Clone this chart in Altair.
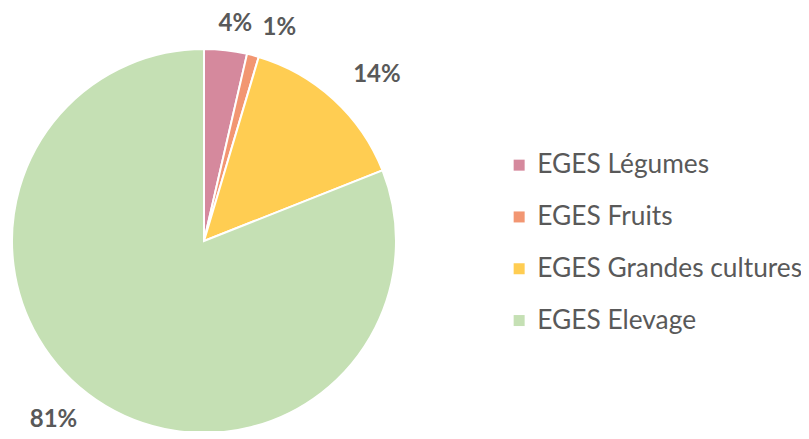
import altair as alt
import pandas as pd

categories = ["EGES Légumes", "EGES Fruits", "EGES Grandes cultures", "EGES Elevage"]
values = [3.6, 1.0, 14.4, 81.0]
labels = ["4%", "1%", "14%", "81%"]
colors = ["#D5899D", "#F29672", "#FFCD52", "#C5E0B4"]

df = pd.DataFrame({"cat": categories, "val": values, "lab": labels, "idx": list(range(len(categories)))})
total = float(sum(values))

cx, cy = 196, 233
theta_scale = alt.Scale(domain=[0, total])

color = alt.Color(
    "cat:N",
    scale=alt.Scale(domain=categories, range=colors),
    sort=categories,
    legend=alt.Legend(
        title=None,
        orient="none",
        legendX=498,
        legendY=144,
        symbolType="square",
        symbolSize=121,
        symbolStrokeWidth=0,
        labelFont="Lato",
        labelFontSize=26.3,
        labelColor="#595959",
        labelLimit=400,
        rowPadding=24.8,
        labelOffset=5,
    ),
)

pie = alt.Chart(df).mark_arc(radius=192, stroke="white", strokeWidth=2).encode(
    theta=alt.Theta("val:Q", stack=True, scale=theta_scale),
    order=alt.Order("idx:Q"),
    color=color,
    x=alt.value(cx),
    y=alt.value(cy),
)

# per-label nudges (Excel "best fit" placement)
nudges = [(6, 7), (18, 5), (21, 0), (-24, -7)]

layers = [pie]
for i, (ddx, ddy) in enumerate(nudges):
    t = (
        alt.Chart(df)
        .transform_window(cum="sum(val)", sort=[alt.SortField("idx")])
        .transform_calculate(mid="datum.cum - datum.val / 2")
        .transform_filter(alt.datum.idx == i)
        .mark_text(
            radius=225, dx=ddx, dy=ddy,
            font="Lato", fontSize=24, fontWeight="bold", color="#595959",
        )
        .encode(
            theta=alt.Theta("mid:Q", scale=theta_scale),
            text="lab:N",
            x=alt.value(cx),
            y=alt.value(cy),
        )
    )
    layers.append(t)

chart = alt.layer(*layers).properties(
    width=793, height=423, autosize="none", padding=0
).configure_view(stroke=None)

chart.save("out.html", embed_options={"renderer": "svg", "actions": False})
